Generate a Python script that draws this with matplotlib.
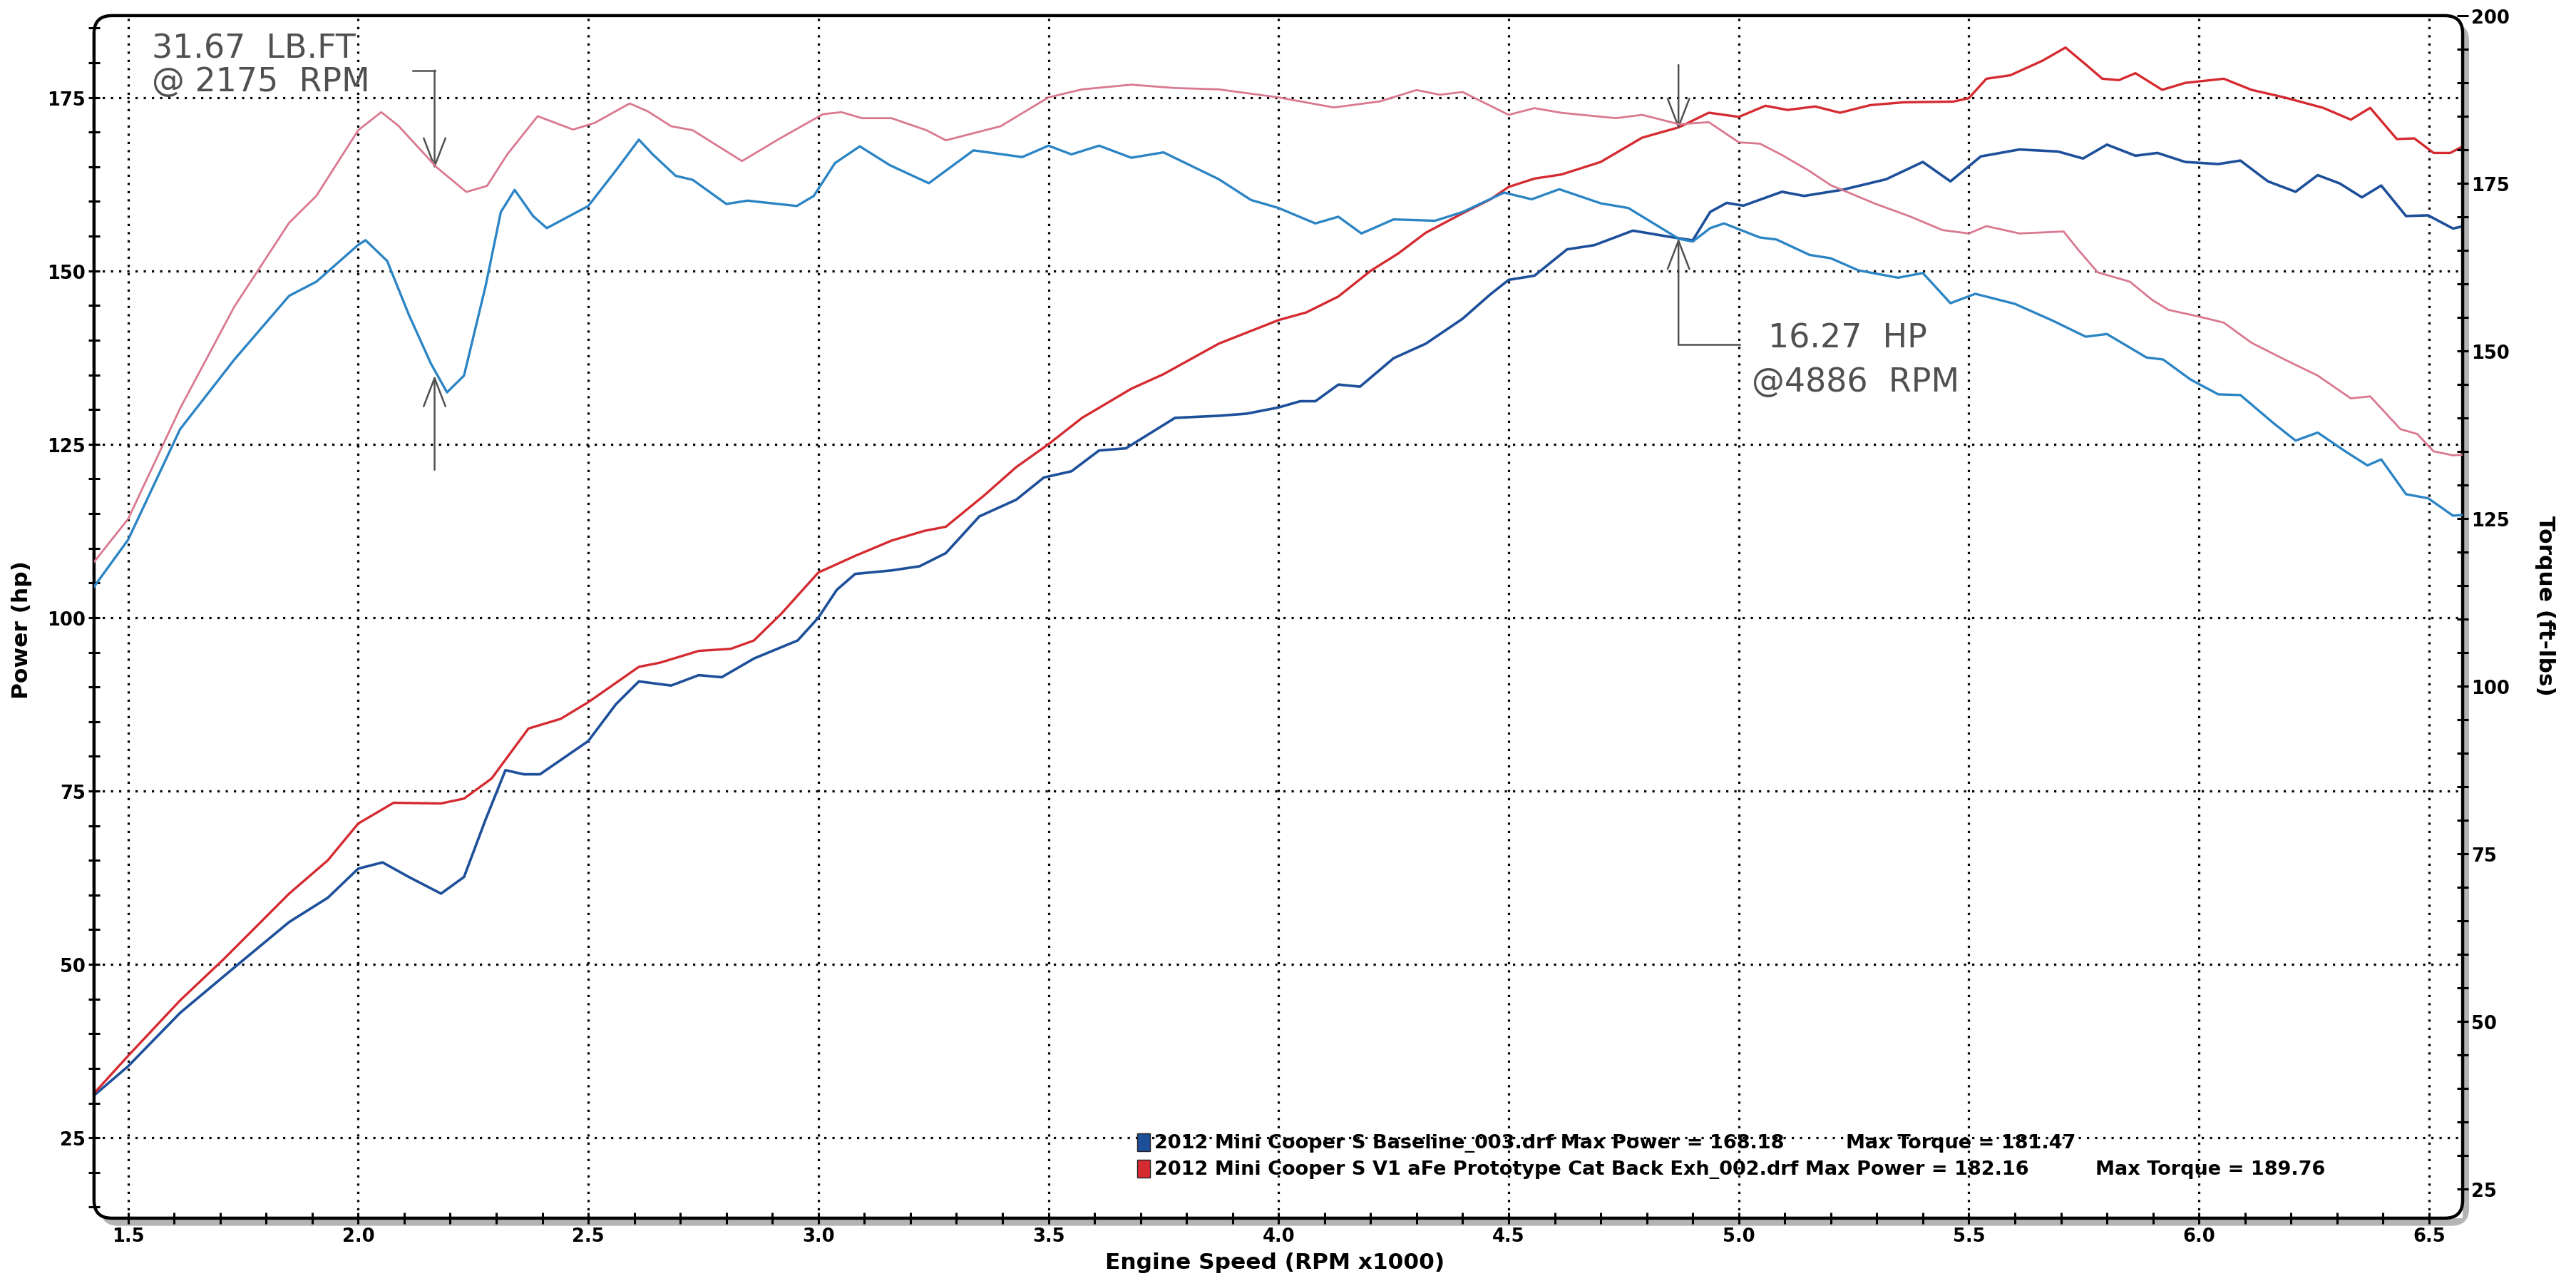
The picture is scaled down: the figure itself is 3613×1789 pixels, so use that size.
import matplotlib
matplotlib.use("Agg")
import matplotlib.pyplot as plt
from matplotlib.patches import FancyBboxPatch, Rectangle
from matplotlib.ticker import MultipleLocator, FormatStrFormatter

# ---- data ----
# baseline run, power (hp, left axis)
base_pwr_rpm = [1.426, 1.5, 1.613, 1.73, 1.85, 1.934, 2.0, 2.053, 2.11, 2.18, 2.23, 2.277,
                2.32, 2.36, 2.395, 2.5, 2.56, 2.61, 2.68, 2.74, 2.79, 2.86, 2.955, 3.0, 3.04,
                3.08, 3.159, 3.22, 3.277, 3.35, 3.43, 3.49, 3.55, 3.61, 3.668, 3.775, 3.87,
                3.93, 4.0, 4.047, 4.08, 4.13, 4.177, 4.25, 4.32, 4.4, 4.46, 4.5, 4.556, 4.627,
                4.686, 4.77, 4.85, 4.9, 4.938, 4.974, 5.01, 5.094, 5.142, 5.226, 5.32, 5.4,
                5.46, 5.526, 5.61, 5.694, 5.748, 5.8, 5.862, 5.91, 5.97, 6.042, 6.09, 6.15,
                6.21, 6.258, 6.306, 6.354, 6.396, 6.45, 6.498, 6.552, 6.572]
base_pwr = [31.1, 35.3, 43.0, 49.5, 56.1, 59.6, 63.8, 64.7, 62.6, 60.2, 62.6, 70.9,
            78.0, 77.4, 77.4, 82.2, 87.5, 90.8, 90.2, 91.7, 91.4, 94.1, 96.7, 100.0, 104.0,
            106.3, 106.8, 107.4, 109.3, 114.6, 117.0, 120.2, 121.1, 124.1, 124.4, 128.8, 129.1,
            129.4, 130.3, 131.2, 131.2, 133.6, 133.3, 137.4, 139.5, 143.1, 146.6, 148.7, 149.3, 153.1,
            153.7, 155.8, 154.9, 154.4, 158.5, 159.8, 159.4, 161.4, 160.8, 161.7, 163.2, 165.7,
            162.9, 166.5, 167.5, 167.2, 166.2, 168.2, 166.6, 167.0, 165.7, 165.4, 165.9, 162.9,
            161.4, 163.8, 162.6, 160.6, 162.3, 157.9, 158.0, 156.1, 156.4]

# baseline run, torque (ft-lbs, right axis)
base_trq_rpm = [1.426, 1.5, 1.613, 1.731, 1.85, 1.909, 2.0, 2.016, 2.063, 2.11, 2.158, 2.193,
                2.23, 2.277, 2.31, 2.34, 2.38, 2.41, 2.5, 2.56, 2.61, 2.64, 2.69, 2.727, 2.8,
                2.846, 2.953, 2.99, 3.036, 3.09, 3.155, 3.24, 3.337, 3.443, 3.5, 3.55, 3.61,
                3.68, 3.75, 3.87, 3.94, 4.0, 4.08, 4.13, 4.18, 4.25, 4.34, 4.4, 4.49, 4.55,
                4.61, 4.7, 4.76, 4.87, 4.9, 4.938, 4.968, 5.046, 5.082, 5.154, 5.2, 5.26, 5.346,
                5.4, 5.46, 5.514, 5.6, 5.682, 5.754, 5.8, 5.886, 5.922, 5.982, 6.042, 6.09,
                6.162, 6.21, 6.258, 6.318, 6.366, 6.396, 6.45, 6.498, 6.552, 6.572]
base_trq = [114.8, 121.8, 138.3, 148.7, 158.2, 160.3, 165.8, 166.5, 163.4, 155.4, 148.1, 143.8,
            146.3, 159.7, 170.7, 174.0, 170.1, 168.3, 171.6, 176.9, 181.5, 179.3, 176.1, 175.5, 171.9,
            172.4, 171.6, 173.1, 178.0, 180.5, 177.7, 175.0, 179.9, 178.9, 180.6, 179.3, 180.6,
            178.8, 179.6, 175.6, 172.5, 171.3, 169.0, 170.0, 167.5, 169.6, 169.4, 170.7, 173.6, 172.6,
            174.1, 172.0, 171.3, 166.7, 166.3, 168.3, 169.0, 166.9, 166.6, 164.3, 163.8, 162.0, 160.9,
            161.6, 157.1, 158.5, 157.0, 154.5, 152.1, 152.5, 149.0, 148.7, 145.7, 143.5, 143.4,
            139.2, 136.6, 137.8, 135.0, 132.9, 133.8, 128.6, 128.0, 125.4, 125.5]

# aFe cat-back run, power (hp, left axis)
afe_pwr_rpm = [1.426, 1.5, 1.613, 1.707, 1.85, 1.934, 2.0, 2.077, 2.18, 2.23, 2.29, 2.37,
               2.44, 2.5, 2.61, 2.656, 2.74, 2.81, 2.86, 2.92, 3.0, 3.08, 3.159, 3.23, 3.277,
               3.36, 3.43, 3.5, 3.573, 3.68, 3.75, 3.87, 4.0, 4.06, 4.13, 4.2, 4.26, 4.32,
               4.4, 4.46, 4.5, 4.556, 4.615, 4.7, 4.79, 4.87, 4.935, 5.0, 5.058, 5.106, 5.166,
               5.22, 5.286, 5.358, 5.466, 5.5, 5.538, 5.59, 5.66, 5.71, 5.755, 5.79, 5.826,
               5.862, 5.92, 5.97, 6.054, 6.114, 6.186, 6.27, 6.33, 6.372, 6.43, 6.468, 6.51,
               6.546, 6.572]
afe_pwr = [31.4, 36.8, 44.8, 50.7, 60.2, 65.0, 70.3, 73.3, 73.2, 73.9, 76.8, 84.0,
           85.4, 87.8, 92.9, 93.5, 95.2, 95.5, 96.7, 100.6, 106.5, 108.9, 111.1, 112.5, 113.1,
           117.6, 121.7, 125.0, 128.8, 133.0, 135.1, 139.5, 142.9, 144.0, 146.3, 150.0, 152.5, 155.5,
           158.3, 160.3, 162.1, 163.3, 163.9, 165.7, 169.2, 170.7, 172.8, 172.2, 173.8, 173.2, 173.7,
           172.8, 173.9, 174.3, 174.4, 174.9, 177.7, 178.2, 180.3, 182.2, 179.7, 177.7, 177.5,
           178.5, 176.1, 177.1, 177.7, 176.1, 175.0, 173.5, 171.8, 173.5, 169.0, 169.1, 167.0,
           167.0, 167.9]

# aFe cat-back run, torque (ft-lbs, right axis)
afe_trq_rpm = [1.426, 1.5, 1.613, 1.731, 1.85, 1.909, 2.0, 2.05, 2.087, 2.17, 2.235, 2.28,
               2.324, 2.39, 2.467, 2.514, 2.59, 2.63, 2.68, 2.727, 2.834, 2.917, 3.01, 3.05,
               3.095, 3.159, 3.235, 3.277, 3.396, 3.5, 3.573, 3.68, 3.775, 3.87, 4.0, 4.12, 4.22,
               4.3, 4.35, 4.4, 4.5, 4.556, 4.615, 4.733, 4.79, 4.87, 4.935, 5.0, 5.046, 5.094,
               5.154, 5.2, 5.298, 5.37, 5.443, 5.5, 5.538, 5.61, 5.706, 5.736, 5.78, 5.85, 5.898,
               5.934, 6.0, 6.054, 6.114, 6.186, 6.258, 6.33, 6.372, 6.438, 6.474, 6.51, 6.552, 6.572]
afe_trq = [118.5, 124.9, 141.4, 156.6, 169.1, 173.1, 182.9, 185.6, 183.6, 177.4, 173.7, 174.6,
           179.3, 185.0, 183.0, 184.0, 186.9, 185.7, 183.5, 182.9, 178.3, 181.7, 185.3, 185.6,
           184.7, 184.7, 182.9, 181.4, 183.5, 187.8, 189.0, 189.7, 189.2, 189.0, 187.8, 186.3, 187.2,
           188.9, 188.2, 188.6, 185.2, 186.2, 185.5, 184.7, 185.2, 183.8, 184.1, 181.1, 180.9, 179.2,
           176.8, 174.7, 171.9, 170.1, 168.0, 167.5, 168.6, 167.5, 167.8, 165.2, 161.7, 160.3, 157.6,
           156.1, 155.1, 154.2, 151.2, 148.7, 146.3, 142.9, 143.2, 138.3, 137.6, 135.0, 134.4, 134.5]

legend_runs = ["2012 Mini Cooper S Baseline_003.drf Max Power = 168.18",
               "2012 Mini Cooper S V1 aFe Prototype Cat Back Exh_002.drf Max Power = 182.16"]
legend_torque = ["Max Torque = 181.47", "Max Torque = 189.76"]

BLUE_PWR = "#1d4f9a"
BLUE_TRQ = "#2b84c4"
RED_PWR = "#d42a30"
RED_TRQ = "#d9788f"
PEN = "#505050"

plt.rcParams["font.family"] = "DejaVu Sans"
plt.rcParams["font.weight"] = "bold"

fig = plt.figure(figsize=(36.13, 17.90), dpi=100)
ax = fig.add_axes([0.0365, 0.0453, 0.9195, 0.9419])
ax2 = ax.twinx()

ax.plot(base_pwr_rpm, base_pwr, color=BLUE_PWR, lw=2.6, zorder=3)
ax.plot(afe_pwr_rpm, afe_pwr, color=RED_PWR, lw=2.4, zorder=3)
ax2.plot(base_trq_rpm, base_trq, color=BLUE_TRQ, lw=2.4)
ax2.plot(afe_trq_rpm, afe_trq, color=RED_TRQ, lw=2.0)

ax.set_xlim(1.426, 6.573)
ax.set_ylim(13.4, 186.8)
ax2.set_ylim(20.6, 200)

ax.xaxis.set_major_locator(MultipleLocator(0.5))
ax.xaxis.set_minor_locator(MultipleLocator(0.1))
ax.xaxis.set_major_formatter(FormatStrFormatter("%.1f"))
for a in (ax, ax2):
    a.yaxis.set_major_locator(MultipleLocator(25))
    a.yaxis.set_minor_locator(MultipleLocator(5))
    a.tick_params(axis="both", which="both", direction="inout", length=11, width=2.2,
                  labelsize=18.5, pad=3)
    for s in a.spines.values():
        s.set_visible(False)

ax.grid(True, which="major", color="black", linestyle=(0, (1, 2.6)), linewidth=2.3)

ax.set_xlabel("Engine Speed (RPM x1000)", fontsize=22.5, fontweight="bold")
ax.set_ylabel("Power (hp)", fontsize=22.5, fontweight="bold")
ax2.set_ylabel("Torque (ft-lbs)", fontsize=22.5, fontweight="bold", rotation=-90)
ax.xaxis.set_label_coords(0.4985, -0.028)
ax.yaxis.set_label_coords(-0.026, 0.49)
ax2.yaxis.set_label_coords(1.039, 0.51)

# rounded frame with a grey drop shadow
asp = 1.97
shadow = FancyBboxPatch((0.0365 + 0.0025, 0.0453 - 0.006), 0.9195, 0.9419,
                        boxstyle="round,pad=0,rounding_size=0.0069", mutation_aspect=asp,
                        transform=fig.transFigure, facecolor="#b4b4b4", edgecolor="none", zorder=-1)
fig.add_artist(shadow)
frame = FancyBboxPatch((0, 0), 1, 1, boxstyle="round,pad=0,rounding_size=0.0075",
                       mutation_aspect=asp, transform=ax.transAxes, fill=False,
                       edgecolor="black", lw=3.2, clip_on=False, zorder=6)
ax.add_patch(frame)

# legend block
leg_x, leg_y = 0.448, [0.1045, 0.0838]
for i, (run, trq, col) in enumerate(zip(legend_runs, legend_torque, [BLUE_PWR, RED_PWR])):
    fig.add_artist(Rectangle((leg_x - 0.0066, leg_y[i] - 0.0068), 0.0050, 0.0138,
                             transform=fig.transFigure, facecolor=col, edgecolor="#222222", lw=1))
    fig.text(leg_x, leg_y[i], run, fontsize=19.5, fontweight="bold", va="center", ha="left")
    fig.text([0.7165, 0.8135][i], leg_y[i], trq, fontsize=19.5, fontweight="bold",
             va="center", ha="left")

# handwritten notes
hand = dict(color=PEN, fontsize=33, fontweight="normal", family="DejaVu Sans",
            ha="left", va="center")
arrow = dict(arrowstyle="->,head_length=1.3,head_width=0.5", color=PEN, lw=1.8,
             shrinkA=0, shrinkB=0, mutation_scale=22)
ax.text(1.551, 182.1, "31.67  LB.FT", **hand)
ax.text(1.551, 177.3, "@ 2175  RPM", **hand)
ax.plot([2.119, 2.166], [178.9, 178.9], color=PEN, lw=1.8, zorder=5)
ax.annotate("", xy=(2.166, 164.7), xytext=(2.166, 178.9), arrowprops=arrow)
ax.annotate("", xy=(2.166, 134.9), xytext=(2.166, 121.3), arrowprops=arrow)

ax.annotate("", xy=(4.869, 170.4), xytext=(4.869, 179.7), arrowprops=arrow)
ax.annotate("", xy=(4.869, 154.7), xytext=(4.869, 139.4), arrowprops=arrow)
ax.plot([4.869, 5.002], [139.4, 139.4], color=PEN, lw=1.8, zorder=5)
ax.text(5.064, 140.3, "16.27  HP", **hand)
ax.text(5.029, 134.0, "@4886  RPM", **hand)

fig.savefig("out.png", dpi=100, facecolor="white")
